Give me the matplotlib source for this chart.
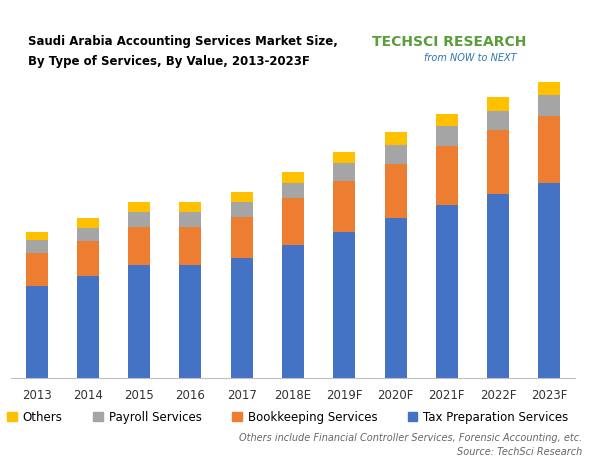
import matplotlib.pyplot as plt
from matplotlib.patches import Patch

years = ["2013","2014","2015","2016","2017","2018E","2019F","2020F","2021F","2022F","2023F"]
tax = [92,102,113,113,120,133,146,160,173,184,195]
book = [33,35,38,38,41,47,51,54,59,64,67]
payroll = [13,13,15,15,15,15,18,19,20,19,21]
others = [8,10,10,10,10,11,11,13,12,14,13]

W, H = 591, 461
fig = plt.figure(figsize=(W/100, H/100), dpi=100)
ax = fig.add_axes([11/W, 1-378/H, 564/W, 318/H])
cols = {"tax": "#4472C4", "book": "#ED7D31", "pay": "#A5A5A5", "oth": "#FFC000"}
x = range(len(years))
bw = 22/51.3
b1 = tax
b2 = [a+b for a, b in zip(b1, book)]
b3 = [a+b for a, b in zip(b2, payroll)]
ax.bar(x, tax, bw, color=cols["tax"])
ax.bar(x, book, bw, bottom=b1, color=cols["book"])
ax.bar(x, payroll, bw, bottom=b2, color=cols["pay"])
ax.bar(x, others, bw, bottom=b3, color=cols["oth"])
ax.set_xlim(-0.5, 10.5)
ax.set_ylim(0, 318)
ax.set_yticks([])
ax.set_xticks(list(x))
ax.set_xticklabels(years, fontsize=8.5, color="#333333")
ax.tick_params(axis="x", length=0, pad=8)
for s in ["top", "right", "left"]:
    ax.spines[s].set_visible(False)
ax.spines["bottom"].set_color("#BFBFBF")

fig.text(28/W, 1-42/H, "Saudi Arabia Accounting Services Market Size,", fontsize=8.5, fontweight="bold", va="center")
fig.text(28/W, 1-61/H, "By Type of Services, By Value, 2013-2023F", fontsize=8.5, fontweight="bold", va="center")
fig.text(372/W, 1-42/H, "TECHSCI RESEARCH", fontsize=10, fontweight="bold", color="#5a9e3a", va="center")
fig.text(470/W, 1-58/H, "from NOW to NEXT", fontsize=7, style="italic", color="#2e75b6", ha="center", va="center")

handles = [Patch(color=cols["oth"]), Patch(color=cols["pay"]), Patch(color=cols["book"]), Patch(color=cols["tax"])]
labels = ["Others", "Payroll Services", "Bookkeeping Services", "Tax Preparation Services"]
fig.legend(handles, labels, loc="center", bbox_to_anchor=(288/W, 1-417/H), ncol=4, frameon=False,
           fontsize=8.5, handlelength=0.8, handleheight=0.8, columnspacing=2.6, handletextpad=0.5)
fig.text(582/W, 1-438/H, "Others include Financial Controller Services, Forensic Accounting, etc.", fontsize=7, style="italic", color="#666666", ha="right", va="center")
fig.text(582/W, 1-452/H, "Source: TechSci Research", fontsize=7, style="italic", color="#666666", ha="right", va="center")
fig.savefig("out.png", dpi=100)
